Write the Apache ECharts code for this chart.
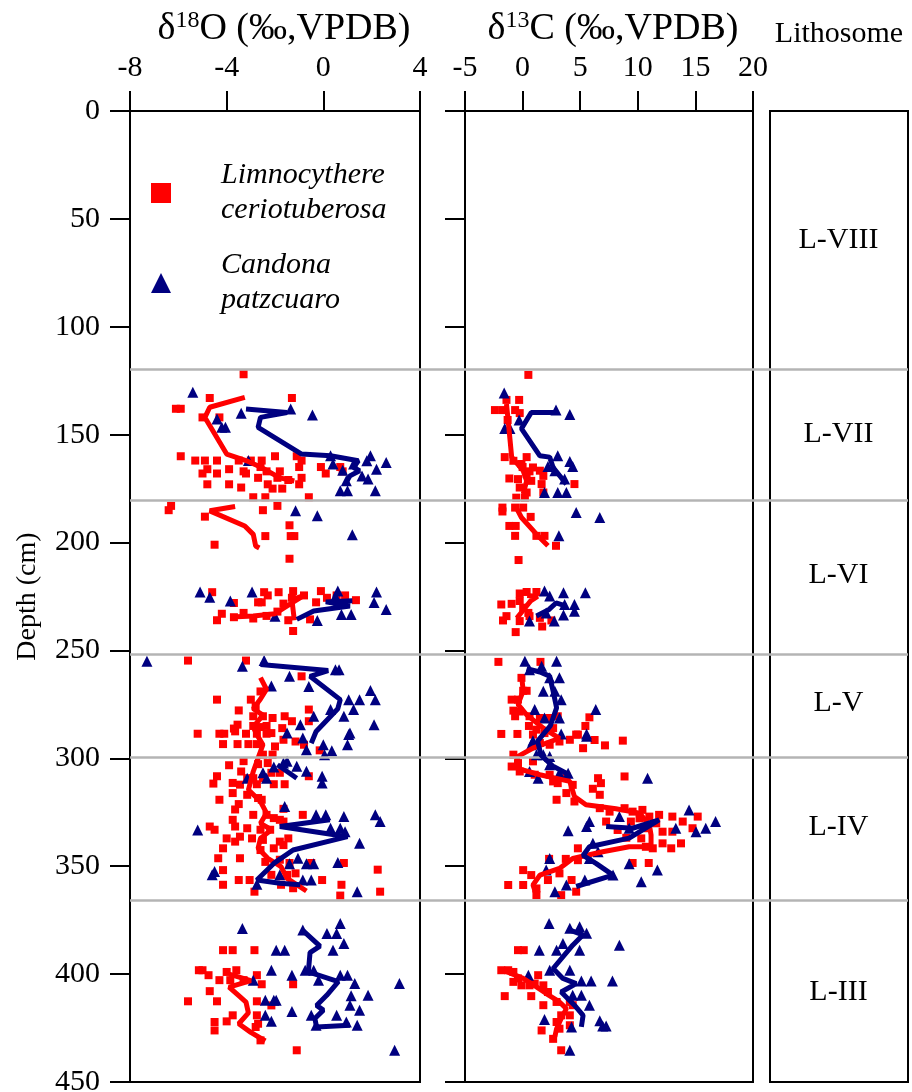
<!DOCTYPE html>
<html>
<head>
<meta charset="utf-8">
<script src="https://cdn.jsdelivr.net/npm/echarts@6/dist/echarts.min.js"></script>
<style>
  html, body { margin: 0; padding: 0; background: #fff; }
  #myChart { width: 912px; height: 1092px; }
</style>
</head>
<body>
<div id="myChart"></div>
<script>
// lithosome boundaries (cm) and labels
var boundaries = [119.6, 180.3, 251.6, 299.7, 365.6];
var lithoNames = ['L-VIII', 'L-VII', 'L-VI', 'L-V', 'L-IV', 'L-III'];
var lithoDepths = [60, 150, 215.5, 274.5, 332, 408.7];

// Limnocythere ceriotuberosa, d18O [value, depth]
var lcO18 = [
  [-3.3,122],[-4.7,133],[-1.3,133],[-6.1,138],[-5.9,138],[-5.0,142],[-4.3,142],
  [-5.9,160],[-5.3,162],[-4.9,162],[-4.4,162],[-3.9,166],[-4.8,166],[-5.0,168],[-4.4,168],[-4.8,173],[-3.9,173],[-3.4,174.5],[-2.9,179],[-2.4,179],[-0.6,179],
  [-3.5,162],[-3.0,162],[-2.55,162],[-2.0,160],[-1.1,160],[-0.9,162],[-0.1,165],[0.1,168],[0.7,165],[0.8,167],[-1.0,165],[-0.9,170],[-1.0,173],[-1.45,171],[-1.8,167],[-1.9,170],[-2.35,167],[-2.3,173],[-2.7,170],[-3.2,168],[-3.3,167],[-2.6,165],[-1.7,175],[-2.1,175],
  [-6.3,183],[-6.4,185],[-4.9,188],[-2.5,185],[-1.9,183],[-1.4,192],[-2.4,197],[-1.35,197],[-1.2,197],[-4.5,201],[-1.4,207.5],
  [-4.6,223],[-3.7,228],[-4.2,233],[-4.4,236],[-2.45,223],[-1.85,223],[-1.25,222.5],[-0.1,222.5],[0.55,224.5],[0.9,224.5],[1.35,226.7],[-2.3,224.5],[-2.7,227.7],[-2.55,227.7],[-1.65,228.3],[-1.3,225.6],[-0.8,224.5],[-0.3,227.7],[0.15,225.6],[-3.7,234.6],[-3.3,232.6],[-2.9,235.2],[-2.35,234],[-1.9,232],[-1.45,236],[-0.55,235.6],[-1.25,241],
  [-5.6,254.7],[-3.2,254.7],[-0.9,262],[-2.6,269],[-4.4,272.8],[-3.0,272.8],[-2.8,275.8],[-0.6,277.4],[-3.5,277.8],[-2.9,280.5],[-2.5,280.5],[-2.1,281.3],[-1.6,280.5],[-1.3,282.8],[-0.6,282.8],[-3.55,284.4],[-3.7,286.2],[-2.9,285],[-2.6,285.5],[-2.35,285],[-5.2,288.6],[-4.3,288.6],[-4.1,288.6],[-3.2,288.6],[-2.75,288.6],[-2.35,288.6],[-1.7,286],
  [-3.65,287.5],[-2.15,288.3],[-1.65,291.4],[-1.15,292.2],[-0.8,293.7],[-0.15,296.3],[-4.15,293.4],[-3.55,293.4],[-3.1,293.4],[-2.75,293.4],[-2.0,294.5],[-2.5,298.3],[-2.1,298.3],
  [-2.3,302.2],[-3.9,303.2],[-3.3,301.3],[-2.7,302.7],[-3.4,306.1],[-3.15,309.2],[-2.9,309.2],[-2.5,309.2],[-2.15,306.7],[-1.8,306.7],[-4.4,308.3],[-4.55,311.7],[-3.75,311.4],[-3.45,312.2],[-2.75,312],[-2.05,312],[-1.6,312],[-0.6,308.3],[-3.15,316.9],[-2.7,318.4],[-3.75,316.1],[-4.3,319.2],[-3.5,321.2],[-3.65,323.7],[-2.55,319.2],[-1.65,323.4],[-2.9,326.2],[-2.35,326.2],[-2.05,327.7],[-1.8,328.5],[-0.85,326.2],[-4.7,331.6],[-4.5,333.1],[-3.75,328.5],[-3.65,331.6],[-3.15,332.4],[-2.6,333.1],[-2.2,333.1],[-1.65,329.3],[-4.0,337.1],[-3.65,338.6],[-3.45,336.3],[-2.95,337.1],[-2.5,337.8],[-1.8,338.6],[-1.45,337.1],[-4.15,341.7],[-2.6,342.5],[-2.05,341.7],[-1.65,340.2],[-4.35,346.3],[-3.45,346.3],[-2.4,348],[-1.8,347],[-1.4,348.5],[-0.5,348.5],[-4.15,351.8],[-2.15,354],[-1.5,354],[-1.15,353.3],[-3.5,356.4],[-3.05,356.4],[-4.15,358.6],[-1.75,358.6],[-1.25,360.2],[-0.05,356.4],[-2.85,361.8],[0.75,358.6],[0.7,363.6],[0.85,348.5],[2.25,351.6],[2.35,361.8],
  [-4.15,388.9],[-3.75,388.9],[-2.85,388.9],[-5.15,398.2],[-5.0,398.2],[-4.75,400.5],[-4.0,399],[-3.6,398.2],[-2.75,400.5],[-2.55,404.7],[-1.25,404.7],[-4.3,402.8],[-3.85,402.8],[-3.3,402.8],[-4.7,407.9],[-5.6,412.6],[-4.4,412.6],[-2.75,412.6],[-2.15,414.5],[-3.75,419.1],[-2.75,419.1],[-2.7,423],[-4.5,422.2],[-4.0,421.9],[-4.5,426.1],[-2.8,424.5],[-2.6,430.7],[-1.1,435.3]
];

// Candona patzcuaro, d18O
var cpO18 = [
  [-5.4,130.4],[-3.4,140.1],[-1.35,138.1],[-0.45,140.9],[-4.4,142.7],[-4.2,146.6],[-4.05,146.6],[0.3,159.8],[0.4,163.6],[1.25,163.6],[1.8,162.1],[1.95,159.8],[2.6,162.9],[2.2,166],[1.6,169.1],[1.85,170.6],[0.95,171.4],[0.7,176],[1.0,176],[2.15,176],[-3.1,162],[0.8,166.5],
  [-1.15,185.3],[-0.25,187.6],[1.2,196.4],
  [-5.1,222.9],[-4.7,225.3],[-3.85,227.1],[-2.95,222.9],[0.6,222.4],[2.2,222.9],[2.1,227.8],[2.6,231],[1.15,233.3],[0.75,233.3],[-0.25,236.1],[-2.0,234.1],[0.5,225],
  [-7.3,255],[-3.35,257.3],[-2.45,254.7],[-1.4,262],[0.5,259],[0.65,259],[-0.6,266.7],[-2.15,266.5],[1.95,268.6],[2.15,272.8],[1.5,272.8],[1.05,272.8],[1.25,277.4],[0.85,280.5],[0.3,277.4],[-0.4,280.5],[-0.95,284.4],[2.1,284.4],[1.1,288.3],[-1.5,288.3],[-0.85,290.6],[-0.7,296],[0.0,293.7],[0.05,298.3],[0.35,296.5],[1.05,289],[1.0,293.7],
  [-1.65,302.2],[-1.5,301.4],[-1.1,303.7],[-0.7,306],[-0.05,308.3],[-0.05,311.4],[-2.5,306.7],[-2.35,309.2],[-3.15,309.2],[-2.05,304],[-1.6,322.3],[-0.3,326.2],[0.1,326.2],[0.85,327],[0.3,332.4],[0.7,332.4],[0.9,334],[2.15,326.2],[2.35,329.3],[1.5,339.4],[-5.2,333.2],[-1.05,346.3],[-0.7,348.8],[-0.4,348.8],[0.6,348.3],[1.4,361.8],[-0.85,356.4],[-0.5,356.4],[-1.4,348.8],[-1.8,354],[-4.5,352.4],[-4.6,353.9],[-2.75,358.3],
  [-3.35,378.9],[-1.95,388.9],[-1.6,388.9],[-2.15,398.2],[-1.3,400.5],[-2.9,402.8],[-2.4,412.1],[-2.05,412.1],[-1.95,412.1],[-2.4,419.1],[-2.15,421.9],[-1.3,417.3],[-0.85,379.6],[0.15,381.2],[0.55,381.2],[0.7,376.5],[0.85,385.8],[0.4,388.9],[-0.75,398.2],[-0.4,398.2],[-0.2,402.8],[0.7,400.5],[1.0,400.5],[1.3,404.3],[3.15,404.3],[1.85,409.8],[1.15,410],[1.1,414.4],[1.5,416.7],[0.55,419.1],[-0.5,419.1],[-0.3,423.7],[1.4,423.7],[0.95,422.2],[2.95,435.3]
];

// Limnocythere ceriotuberosa, d13C
var lcC13 = [
  [0.5,122.3],[-0.3,133.9],[-1.4,133.9],[-2.4,138.6],[-1.7,138.6],[-0.65,138.6],[-1.3,143.2],[-1.55,160.4],[-0.8,162.1],[0.35,160.4],[-0.1,163.6],[0.9,165.2],[1.5,166.7],[0.35,168.3],[-1.15,170.3],[-0.4,170.6],[0.75,171.4],[1.8,169.1],[1.65,172.9],[-0.25,174.5],[0.35,176.8],[-0.55,179.2],[0.2,179.2],[1.8,176.8],[4.5,172.9],[-0.25,140],[0,165],[0.6,167],
  [-1.75,183.8],[-1.75,185.6],[-0.65,183.8],[0.05,183.8],[0.7,188.1],[-1.15,192.3],[-0.6,192.3],[-0.65,196.9],[1.2,196.9],[1.9,196.9],[2.9,201.5],[-0.35,208.1],
  [-1.85,228.7],[-0.95,228.4],[-0.25,223.6],[0.35,222.9],[1.2,222.9],[-0.25,227.1],[0.05,230.2],[0.5,232.6],[-1.4,234.1],[-1.7,236.1],[-0.25,236.4],[1.5,234.9],[2.5,236.1],[1.7,238.9],[-0.6,241.5],[0.6,234.1],
  [-2.1,255.3],[1.55,255.3],[-0.1,262.7],[0.05,268.7],[0.35,268.7],[-0.95,272.8],[-0.4,272.8],[-0.8,277.9],[-0.25,278.3],[-0.65,280.5],[0.6,280.5],[1.5,281.3],[2.3,281.3],[3.05,280.5],[5.8,281],[5.45,285],[0.55,285],[-1.85,288.7],[-0.45,288.7],[1.2,286.7],[1.9,288.3],[2.65,286],[4.65,289],[6.25,291.5],[8.7,291.8],[0.9,289],[1.5,292.9],[2.35,293.7],[3.2,292.2],[4.1,291.4],[4.8,289],[5.25,295.3],[7.15,294],[-0.8,298.3],
  [-0.4,302.2],[0.9,301.4],[-0.25,306.1],[-0.95,303.8],[1.05,307.6],[2.65,310.7],[3.05,311.5],[2.35,307.6],[3.8,308.4],[4.35,312.3],[3.8,316.1],[2.95,319.2],[4.5,320],[6.55,309.2],[6.8,311.5],[6.1,314.1],[6.7,316.9],[8.85,308.4],[6.7,323.1],[7.55,324.7],[8.85,323.1],[9.55,324.7],[10.4,323.9],[10.15,327.8],[11.0,327],[11.6,330.1],[11.85,326.2],[13.0,327],[13.9,329.3],[14.75,332.4],[15.2,327],[12.15,334],[13.0,334],[10.85,332.4],[10.3,337.1],[9.0,336.8],[10.7,341],[11.3,341.7],[12.15,339.4],[12.9,341.7],[13.75,339.4],[7.25,329.3],[8.25,333.2],[9.4,329.3],[4.8,341.7],[2.3,346.6],[3.75,346.6],[4.8,347.2],[0.05,351.8],[0.75,354.1],[-1.25,358.7],[0.05,358.7],[1.2,360.3],[1.2,363.4],[2.2,356.4],[3.2,353.3],[4.25,356.4],[3.35,363.4],[4.65,361.8],[9.55,348.5],[10.95,348.5],
  [-0.4,388.9],[0.1,388.9],[-1.85,398.2],[-1.25,398.2],[-0.8,399],[-0.4,402],[-0.8,403.6],[1.35,400.5],[-0.1,405.2],[0.6,405.2],[1.05,404.4],[1.8,405.2],[2.2,408.3],[-1.55,410.2],[0.75,410.2],[1.8,414.4],[2.95,412.9],[4.1,412.9],[4.35,414.4],[3.35,419.1],[4.1,419.1],[2.95,422.2],[3.2,425.3],[1.65,426.1],[2.65,430],[4.1,423.7],[3.35,435.3]
];

// Candona patzcuaro, d13C
var cpC13 = [
  [-1.6,130.7],[2.9,138.6],[4.1,140.7],[-0.3,143.2],[-1.55,147.2],[-1.1,147.2],[3.05,159.8],[4.1,162.4],[4.35,164.7],[2.2,164.7],[2.8,166.7],[3.65,170.6],[1.9,176.8],[3.05,176.8],[3.8,176.8],
  [4.65,186.1],[6.7,188.4],[3.15,196.9],
  [1.9,222.5],[2.35,224.8],[3.55,223.3],[5.45,223.3],[3.65,228.7],[4.5,228.7],[4.5,231.8],[3.55,233.6],[2.05,232.6],[2.75,236.4],[0.6,236.4],
  [0.2,255],[1.65,257.3],[2.95,255],[0.6,259],[3.2,262.7],[2.35,262.7],[1.8,268.9],[2.8,268.9],[3.35,272.8],[1.05,277.4],[6.35,277.4],[3.2,281.3],[1.9,281.3],[5.55,288.7],[3.35,288.7],[0.9,291.8],[0.75,293.7],[1.2,298.3],[1.8,298.3],[2.35,299.1],[5.55,289.8],
  [0.6,306.1],[1.35,309.2],[2.35,303],[3.2,306.9],[3.95,306.9],[10.85,309.2],[14.45,323.9],[13.3,332.4],[15.05,334],[15.9,332.4],[16.75,329.3],[8.4,327],[5.8,329.3],[5.55,331.6],[3.95,333.6],[9.25,332.4],[6.1,339.4],[5.8,346.4],[6.55,343.3],[9.25,348.8],[11.7,351.8],[10.3,357.2],[7.85,354.1],[2.05,351.8],[2.35,346.4],[3.8,358.7],[2.8,361.8],[5.4,356.4],
  [2.3,376.5],[4.1,378.8],[4.95,378],[5.55,381.1],[8.4,386.6],[1.45,388.9],[2.95,388.9],[4.95,388.9],[3.5,385.8],[4.1,398.2],[0.5,400.5],[2.35,398.2],[5.1,403.2],[5.95,403.2],[7.8,403.2],[4.35,409.8],[5.1,409.8],[5.8,414.4],[1.9,421],[4.25,424.5],[6.7,421.6],[6.95,424.1],[7.25,424.1],[4.1,435.3]
];

// running-mean curves, one array per unbroken segment
var lcO18Lines = [
  [[-3.25,132.7],[-4.7,137.3],[-4.9,142],[-4.0,159],[-3.2,162],[-2.6,165],[-1.8,170],[-1.2,171.5]],
  [[-3.65,183.3],[-4.7,185.3],[-3.25,192.3],[-2.9,196.2],[-2.8,201.6],[-2.65,202.5]],
  [[-3.8,234.5],[-2.9,234],[-2.0,233],[-1.3,228],[-0.8,224.5],[-1.3,226.5],[-1.2,236]],
  [[-2.6,262.6],[-2.35,268],[-2.6,272.5],[-2.9,277],[-2.5,280],[-2.9,285.5],[-2.75,289],[-2.5,293.7],[-2.7,299.9],[-2.9,306.1],[-3.1,314.6],[-2.6,320],[-2.35,325.4],[-2.6,330.1],[-2.15,333.1],[-2.6,337.1],[-2.7,341.7],[-2.3,346.3],[-1.75,350.2],[-1.5,355.6],[-0.7,361.5]],
  [[-3.9,400],[-3.0,403],[-3.9,406],[-3.5,410],[-3.2,413],[-3.1,418],[-3.5,423],[-3.0,427],[-2.4,431]]
];
var cpO18Lines = [
  [[-3.2,138.1],[-1.5,139.7],[-2.6,142],[-2.7,146.6],[-0.9,159],[0.3,159.8],[1.45,162.1],[1.25,165.2],[1.5,166.7],[1.1,169.1],[0.95,172.1]],
  [[-1.1,235.6],[-0.4,231.7],[1.1,229.4],[0.1,227.5],[1.2,227]],
  [[-2.6,256.5],[0.2,259.3],[-0.55,262],[0.7,272.8],[0.6,277],[-0.3,287.6],[-0.5,293]],
  [[-1.9,303],[-1.1,309.2]],
  [[0.27,328.5],[-1.8,331.6],[1.0,336.3],[-1.25,342.5],[-2.05,348.7],[-2.75,356.4],[-1.8,357.9],[-0.95,358.6]],
  [[-0.83,380],[-0.14,387],[-0.55,390],[-0.62,399],[0.62,403.5],[0.14,409.8],[-0.28,414.5],[0.0,416.7],[-0.35,420.6],[-0.28,424.5],[1.1,423.7]]
];
var lcC13Lines = [
  [[-1.4,135.8],[-1.25,143.5],[-0.95,160.4],[0.05,166.7],[0.35,171.4],[0.05,177.6]],
  [[-0.55,183.8],[-0.1,188.4],[1.2,196.1],[2.2,201.5]],
  [[-0.5,235],[0.1,231],[0.7,227],[1.3,225],[0.4,224.5]],
  [[-0.1,261],[0.05,268.7],[-0.4,275],[0.35,279.8],[1.8,286],[3.2,290.7],[1.0,295],[-0.4,299.1],[-0.55,304.5],[1.5,307.6],[4.1,310.7],[4.5,317.7],[5.5,321.5],[8.1,323.4],[10.15,325.4],[11.0,330.8],[11.15,335.5],[11.15,341],[9.25,341],[6.95,343.3],[4.35,346.4],[3.2,351],[1.5,354.1],[0.9,358.7],[1.2,363.4]],
  [[-1.7,398.2],[0.05,402],[1.2,405.9],[2.05,409],[3.2,412.9],[3.8,416],[3.35,420.6],[2.95,425.3],[2.8,429]]
];
var cpC13Lines = [
  [[2.95,139.7],[0.75,139.7],[-0.1,147.2],[1.5,159.8],[2.35,160.4],[2.65,165.2],[3.8,172.9]],
  [[1.2,234],[2.3,231],[2.9,228],[3.8,229.5]],
  [[0.35,258.4],[1.5,260],[2.35,261.9],[2.65,268.9],[2.95,276.6],[2.4,285],[1.3,292],[1.6,298.5],[2.6,303.5],[4.0,307.5]],
  [[7.25,331.6],[9.55,332.4],[11.85,328.5],[9.25,337],[5.8,341],[5.25,345],[6.4,348.8],[7.85,354.1],[4.65,359.4]],
  [[4.1,379.6],[5.25,381.8],[4.35,386.6],[2.65,397.4],[3.5,402],[4.65,404.4],[3.35,408.3],[4.5,414.4],[5.25,419.1],[5.1,424.5]]
];

var LC = 'Limnocythere ceriotuberosa';
var CP = 'Candona patzcuaro';
var RED = '#ff0000';
var BLUE = '#000080';
var FONT = "'Liberation Serif', 'Times New Roman', serif";

window.onload = function () {
    var myChart = echarts.init(document.getElementById('myChart'));

    var black = { color: '#000', width: 2 };
    function titleRich(padLeft) {
        return {
            d: { fontSize: 38, fontFamily: FONT, color: '#000' },
            s: { fontSize: 24, fontFamily: FONT, color: '#000', padding: [0, 0, 16, 0] },
            p: { width: padLeft }
        };
    }

    function depthAxis(idx, extra) {
        var a = {
            gridIndex: idx, type: 'value', inverse: true, min: 0, max: 450, interval: 50,
            axisLine: { show: true, onZero: false, lineStyle: black },
            axisTick: { show: true, length: 20, lineStyle: black },
            axisLabel: { show: false },
            splitLine: { show: false }
        };
        for (var k in extra) a[k] = extra[k];
        return a;
    }

    function valueAxis(idx, min, max, interval, name, padLeft) {
        return {
            gridIndex: idx, type: 'value', position: 'top', min: min, max: max, interval: interval,
            name: '{p|}' + name, nameLocation: 'middle', nameGap: 58,
            nameTextStyle: { rich: titleRich(padLeft) },
            axisLine: { show: true, onZero: false, lineStyle: black },
            axisTick: { show: true, length: 20, lineStyle: black },
            axisLabel: { fontSize: 30, fontFamily: FONT, color: '#000', margin: 28 },
            splitLine: { show: false }
        };
    }

    var series = [];

    // lithosome boundary lines over the whole width
    series.push({
        type: 'line', xAxisIndex: 3, yAxisIndex: 3, data: [[0, 0]], showSymbol: false, z: 1,
        markLine: {
            silent: true, symbol: 'none', label: { show: false },
            lineStyle: { color: '#b4b4b4', width: 2.5, type: 'solid' },
            data: boundaries.map(function (d) { return { yAxis: d }; })
        }
    });

    function scatter(name, data, ax, sym, size, color) {
        return {
            name: name, type: 'scatter', xAxisIndex: ax, yAxisIndex: ax, data: data,
            symbol: sym, symbolSize: size, itemStyle: { color: color, opacity: 1 }, z: 3
        };
    }
    series.push(scatter(LC, lcO18, 0, 'rect', 8, RED));
    series.push(scatter(CP, cpO18, 0, 'triangle', 11, BLUE));
    series.push(scatter(LC, lcC13, 1, 'rect', 8, RED));
    series.push(scatter(CP, cpC13, 1, 'triangle', 11, BLUE));

    function lines(segs, ax, color, z) {
        segs.forEach(function (seg) {
            series.push({
                type: 'line', xAxisIndex: ax, yAxisIndex: ax, data: seg, showSymbol: false,
                lineStyle: { color: color, width: 5 }, z: z, silent: true
            });
        });
    }
    lines(lcO18Lines, 0, RED, 4);
    lines(cpO18Lines, 0, BLUE, 5);
    lines(lcC13Lines, 1, RED, 4);
    lines(cpC13Lines, 1, BLUE, 5);

    // lithosome labels
    series.push({
        type: 'scatter', xAxisIndex: 2, yAxisIndex: 2, symbolSize: 1, silent: true,
        itemStyle: { color: '#fff', opacity: 1 },
        data: lithoNames.map(function (n, i) { return { name: n, value: [0.5, lithoDepths[i]] }; }),
        label: {
            show: true, position: [0, 0], align: 'center', verticalAlign: 'middle', formatter: '{b}',
            fontSize: 30, fontFamily: FONT, color: '#000', opacity: 1, textBorderWidth: 0
        }
    });

    var gridBase = { show: true, borderColor: '#000', borderWidth: 2, outerBoundsMode: 'none', containLabel: false };
    function grid(left, width, show) {
        var g = { left: left, top: 111, width: width, height: 971 };
        for (var k in gridBase) g[k] = gridBase[k];
        g.show = show;
        return g;
    }

    var option = {
        animation: false,
        legend: {
            orient: 'vertical', left: 146, top: 153, itemGap: 20,
            itemWidth: 20, itemHeight: 20,
            data: [{ name: LC, icon: 'rect' }, { name: CP, icon: 'triangle' }],
            formatter: function (name) { return name.replace(' ', '\n'); },
            textStyle: {
                fontSize: 30, fontFamily: FONT, fontStyle: 'italic', color: '#000',
                lineHeight: 35, padding: [0, 0, 0, 45]
            }
        },
        grid: [
            grid(130, 290, true),
            grid(465, 288, true),
            grid(770, 138, true),
            grid(130, 778, false)
        ],
        xAxis: [
            valueAxis(0, -8, 4, 4, '{d|δ}{s|18}{d|O (‰,VPDB)}', 18),
            valueAxis(1, -5, 20, 5, '{d|δ}{s|13}{d|C (‰,VPDB)}', 8),
            {
                gridIndex: 2, type: 'value', position: 'top', min: 0, max: 1,
                name: 'Lithosome', nameLocation: 'middle', nameGap: 62,
                nameTextStyle: { fontSize: 30, fontFamily: FONT, color: '#000' },
                axisLine: { show: false }, axisTick: { show: false },
                axisLabel: { show: false }, splitLine: { show: false }
            },
            { gridIndex: 3, type: 'value', min: 0, max: 1, show: false }
        ],
        yAxis: [
            depthAxis(0, {
                name: 'Depth (cm)', nameLocation: 'middle', nameGap: 88, nameRotate: 90,
                nameTextStyle: { fontSize: 28, fontFamily: FONT, color: '#000' },
                axisLabel: { show: true, fontSize: 30, fontFamily: FONT, color: '#000', margin: 30 }
            }),
            depthAxis(1, {}),
            depthAxis(2, { axisTick: { show: false } }),
            { gridIndex: 3, type: 'value', inverse: true, min: 0, max: 450, show: false }
        ],
        series: series
    };

    myChart.setOption(option);
};
</script>
</body>
</html>
